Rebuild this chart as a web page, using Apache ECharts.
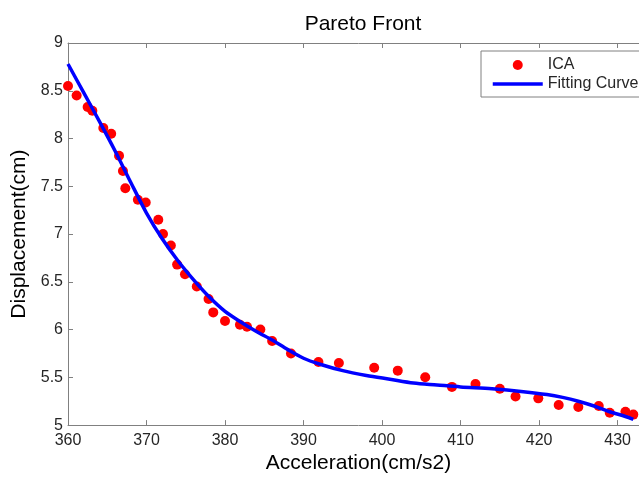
<!DOCTYPE html>
<html>
<head>
<meta charset="utf-8">
<script src="https://cdn.jsdelivr.net/npm/echarts@6/dist/echarts.min.js"></script>
<style>
html,body{margin:0;padding:0;background:#fff;overflow:hidden;width:639px;height:479px;}
#main{width:680px;height:479px;}
</style>
</head>
<body>
<div id="main"></div>
<script>
// ICA scatter points (Acceleration, Displacement)
const icaX = [360.0, 361.1, 362.5, 363.1, 364.5, 365.5, 366.5, 367.0, 367.3, 368.9, 369.9, 371.5, 372.1, 373.1, 373.9, 374.9, 376.4, 377.9, 378.5, 380.0, 381.9, 382.8, 384.5, 386.0, 388.4, 391.9, 394.5, 399.0, 402.0, 405.5, 408.9, 411.9, 415.0, 417.0, 419.9, 422.5, 425.0, 427.6, 429.0, 431.0, 432.0];
const icaY = [8.55, 8.45, 8.33, 8.29, 8.11, 8.05, 7.82, 7.66, 7.48, 7.36, 7.33, 7.15, 7.00, 6.88, 6.68, 6.58, 6.45, 6.32, 6.18, 6.09, 6.05, 6.03, 6.00, 5.88, 5.75, 5.66, 5.65, 5.60, 5.57, 5.50, 5.40, 5.43, 5.38, 5.30, 5.28, 5.21, 5.19, 5.20, 5.13, 5.14, 5.11];
// Fitting curve samples
const fitX = [360, 362, 364, 366, 368, 370, 372, 374, 376, 378, 380, 382, 384, 386, 388, 390, 392, 395, 398, 401, 404, 407, 410, 414, 418, 421, 423, 425, 427, 429, 431, 432];
const fitY = [8.78, 8.48, 8.18, 7.87, 7.54, 7.22, 6.95, 6.72, 6.52, 6.34, 6.19, 6.08, 5.98, 5.89, 5.79, 5.70, 5.64, 5.57, 5.52, 5.48, 5.44, 5.42, 5.40, 5.38, 5.35, 5.32, 5.29, 5.25, 5.20, 5.14, 5.09, 5.06];
const seriesNames = ['ICA', 'Fitting Curve'];
const titleText = 'Pareto Front';
const xName = 'Acceleration(cm/s2)';
const yName = 'Displacement(cm)';

const FONT = '"Liberation Sans", Arial, sans-serif';
const axisGray = '#808080';
const textCol = '#262626';

const chart = echarts.init(document.getElementById('main'), null, {renderer: 'canvas'});
const xMin = 360, xMax = 434, yMin = 5, yMax = 9;

const baseX = {
  type: 'value', min: xMin, max: xMax, interval: 10,
  axisLine: {show: true, onZero: false, lineStyle: {color: axisGray, width: 1}},
  axisTick: {show: true, inside: true, length: 5, lineStyle: {color: axisGray}},
  splitLine: {show: false}
};
const baseY = {
  type: 'value', min: yMin, max: yMax, interval: 0.5,
  axisLine: {show: true, onZero: false, lineStyle: {color: axisGray, width: 1}},
  axisTick: {show: true, inside: true, length: 5, lineStyle: {color: axisGray}},
  splitLine: {show: false}
};

chart.setOption({
  animation: false,
  backgroundColor: '#fff',
  title: {
    text: titleText, left: 358, top: 9, textAlign: 'center',
    textStyle: {fontFamily: FONT, fontSize: 21, fontWeight: 'normal', color: '#000'}
  },
  legend: {
    left: 481, top: 51, orient: 'vertical',
    itemWidth: 50, itemHeight: 10, itemGap: 3,
    padding: [6, 20, 5, 10],
    borderColor: axisGray, borderWidth: 1, backgroundColor: '#fff',
    textStyle: {fontFamily: FONT, fontSize: 16, color: textCol},
    data: [
      {name: seriesNames[0], icon: 'circle'},
      {name: seriesNames[1], icon: 'inherit',
       itemStyle: {color: 'rgba(0,0,0,0)', borderWidth: 0, opacity: 0},
       lineStyle: {color: '#0000ff', width: 3.5}}
    ]
  },
  grid: {left: 68, top: 43, bottom: 48, right: 31, containLabel: false},
  xAxis: [
    Object.assign({}, baseX, {
      position: 'bottom',
      name: xName, nameLocation: 'middle', nameGap: 25,
      nameTextStyle: {fontFamily: FONT, fontSize: 21, color: '#000', verticalAlign: 'top'},
      axisLabel: {fontFamily: FONT, fontSize: 16, color: textCol, margin: 7,
        formatter: v => (v % 10 === 0 ? String(v) : '')}
    }),
    Object.assign({}, baseX, {position: 'top', axisLabel: {show: false}})
  ],
  yAxis: [
    Object.assign({}, baseY, {
      position: 'left',
      name: yName, nameLocation: 'middle', nameGap: 27, nameRotate: 90,
      nameTextStyle: {fontFamily: FONT, fontSize: 21, color: '#000'},
      axisLabel: {fontFamily: FONT, fontSize: 16, color: textCol, margin: 5}
    }),
    Object.assign({}, baseY, {position: 'right', axisLabel: {show: false}})
  ],
  series: [
    {
      name: seriesNames[0], type: 'scatter', symbol: 'circle', symbolSize: 10,
      itemStyle: {color: '#ff0000', opacity: 1},
      data: icaX.map((x, i) => [x, icaY[i]]),
      z: 2
    },
    {
      name: seriesNames[1], type: 'line', showSymbol: false, symbol: 'none', smooth: 0.3,
      lineStyle: {color: '#0000ff', width: 3.5},
      itemStyle: {color: '#0000ff'},
      data: fitX.map((x, i) => [x, fitY[i]]),
      z: 3
    }
  ]
});
</script>
</body>
</html>
